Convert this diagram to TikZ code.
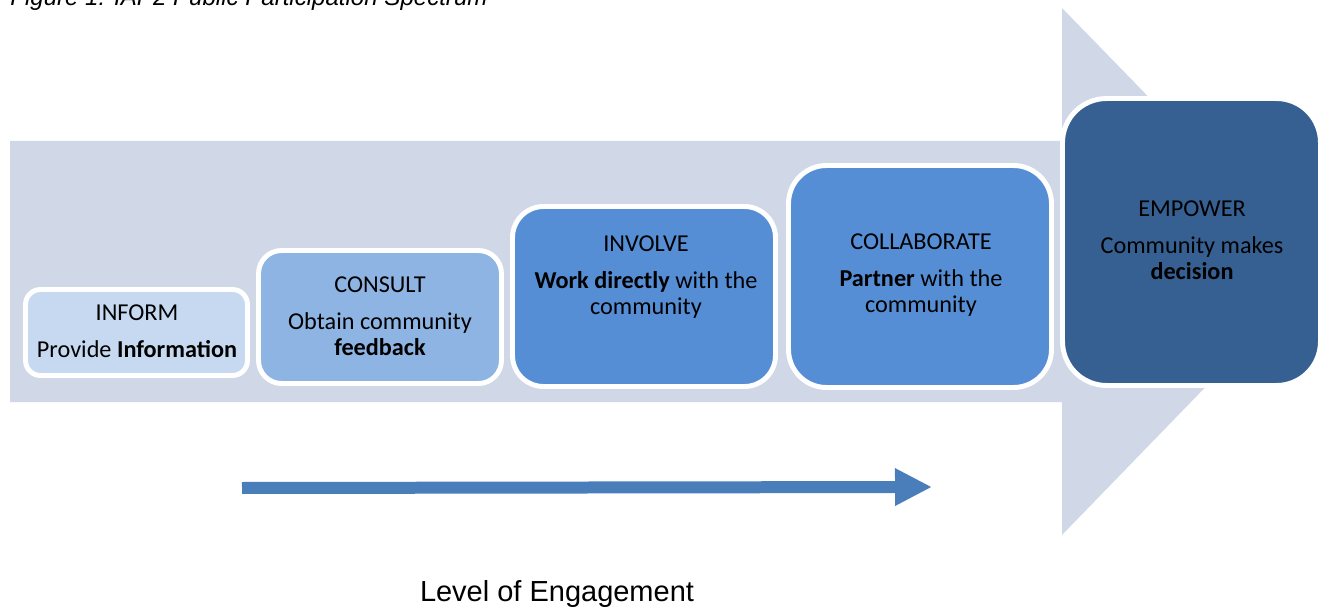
\documentclass[tikz,border=0pt]{standalone}
\usepackage{fontspec}
\setmainfont{Carlito}
\newfontfamily\arialfont{Liberation Sans}
\usepackage{xcolor}
\usepackage{tikz}
\usetikzlibrary{arrows.meta, positioning, calc}

\definecolor{bandgrey}{RGB}{208,216,232}
\definecolor{informblue}{RGB}{198,217,241}
\definecolor{consultblue}{RGB}{141,180,226}
\definecolor{involveblue}{RGB}{85,142,213}
\definecolor{empowerblue}{RGB}{55,96,146}
\definecolor{engageblue}{RGB}{74,126,187}

\begin{document}
\begin{tikzpicture}[x=0.02cm,y=-0.02cm,
    stagebox/.style={rectangle,draw=white,line width=2.8pt,inner sep=0pt},
    stagetext/.style={align=center,font=\fontsize{13.8}{15}\selectfont,inner sep=0pt}]
    \useasboundingbox (0,0) rectangle (1330,608);
    \clip (0,0) rectangle (1330,608);
    % Caption (cut off at the top)
    \node[anchor=base west,font=\arialfont\itshape\fontsize{13.7}{16}\selectfont,inner sep=0pt] (caption) at (10,6) {Figure 1: IAP2 Public Participation Spectrum};
    % Background arrow
    \fill[bandgrey] (10,141) -- (1062,141) -- (1062,8) -- (1318,271) -- (1062,535) -- (1062,402) -- (10,402) -- cycle;
    % Inform
    \node[stagebox,fill=informblue,minimum width=4.44cm,minimum height=1.72cm,rounded corners=0.3cm] (inform) at (136.5,332.5) {};
    \node[stagetext] (informtxt) at (137,331) {INFORM\\[6pt]Provide \textbf{Information}};
    % Consult
    \node[stagebox,fill=consultblue,minimum width=4.86cm,minimum height=2.66cm,rounded corners=0.46cm] (consult) at (380,317) {};
    \node[stagetext] (consulttxt) at (380,316) {CONSULT\\[6pt]Obtain community\\\textbf{feedback}};
    % Involve
    \node[stagebox,fill=involveblue,minimum width=5.26cm,minimum height=3.6cm,rounded corners=0.62cm] (involve) at (644,296.5) {};
    \node[stagetext] (involvetxt) at (646,277) {INVOLVE\\[6pt]\textbf{Work directly} with the\\community};
    % Collaborate
    \node[stagebox,fill=involveblue,minimum width=5.26cm,minimum height=4.44cm,rounded corners=0.76cm] (collaborate) at (920,276.5) {};
    \node[stagetext] (collaboratetxt) at (921,275) {COLLABORATE\\[6pt]\textbf{Partner} with the\\community};
    % Empower
    \node[stagebox,fill=empowerblue,minimum width=5.16cm,minimum height=5.74cm,rounded corners=0.88cm] (empower) at (1191.5,242) {};
    \node[stagetext] (empowertxt) at (1192,240) {EMPOWER\\[6pt]Community makes\\\textbf{decision}};
    % Level of engagement
    \coordinate (engstart) at (242,488);
    \coordinate (engend) at (932,487);
    \draw[engageblue,line width=0.24cm,-{Triangle[length=0.74cm,width=0.7cm]}] (engstart) -- (engend);
    \node[anchor=base,font=\arialfont\fontsize{16.5}{18}\selectfont,inner sep=0pt] (level) at (557,601) {Level of Engagement};
\end{tikzpicture}
\end{document}
